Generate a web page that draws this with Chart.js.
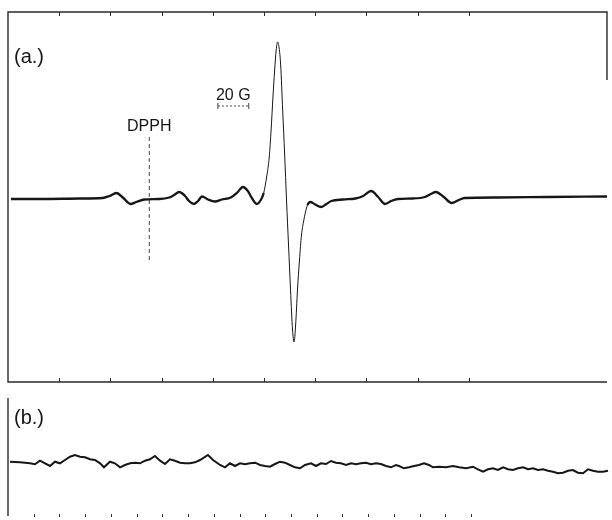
<!DOCTYPE html>
<html><head><meta charset="utf-8">
<script src="https://cdn.jsdelivr.net/npm/chart.js@4/dist/chart.umd.min.js"></script>
<style>
html,body{margin:0;padding:0;background:#fff;}
#wrap{position:relative;width:612px;height:520px;overflow:hidden;}
#c1{position:absolute;left:0;top:0;}
#c2{position:absolute;left:0;top:390px;}
</style></head><body>
<div id="wrap"><canvas id="c1" width="612" height="390"></canvas><canvas id="c2" width="612" height="130"></canvas></div>
<script>
// ---- data (field in gauss, arbitrary origin; amplitude in arbitrary units) ----
const spectrumField = [1.9,20.6,46.5,61.3,65.8,70.3,74.8,79.4,83.2,88.4,98.1,104.5,107.7,111.0,114.8,117.4,120.6,123.2,125.8,129.7,134.2,138.7,144.5,148.4,152.3,155.5,158.1,161.3,163.9,165.8,167.7,169.4,170.6,171.8,172.9,173.9,174.8,175.8,176.8,178.1,179.4,180.6,181.9,183.2,184.5,185.5,186.5,187.7,189.0,190.3,191.6,192.9,194.2,196.1,198.7,203.2,206.5,209.7,217.4,225.2,230.3,235.5,240.0,244.5,248.4,252.9,262.6,270.3,274.2,277.4,282.6,287.7,292.3,296.1,317.4,349.7,388.4];
const spectrumAmp   = [-2,-2,-1.5,-1,1,4,-1,-7,-5,-2.5,-2,-0.5,2,5,1,-4,-7,-4,0.5,-2.5,-4.5,-2.5,-0.5,4,10,6,-1,-7,-3,4,20,40,67,100,127,147,155,149,132,87,42,-3,-48,-93,-133,-145,-128,-93,-63,-38,-25,-15,-8,-5,-7,-10,-7,-4,-2.5,-1.5,1,6,0,-7,-4,-2,-1.5,0,3,5,0,-6,-3,-1,-0.5,0,0.5];

const noiseField = [1.3,7.7,14.2,17.4,20.6,23.9,27.1,30.3,33.5,36.8,40.0,43.2,46.5,49.7,52.9,56.1,59.4,61.9,65.8,69.0,72.3,75.5,78.7,81.9,85.2,88.4,91.6,94.8,98.1,101.3,104.5,107.7,111.0,114.2,117.4,120.6,123.9,129.0,132.3,136.8,140.0,143.2,146.5,149.7,152.9,156.1,159.4,162.6,165.8,169.0,172.3,175.5,178.7,181.9,185.2,188.4,191.6,195.5,198.7,201.9,205.2,208.4,211.6,214.8,218.1,221.3,224.5,227.7,231.0,234.2,237.4,240.6,243.9,247.1,250.3,252.3,255.5,258.7,261.9,265.2,268.4,271.6,274.2,278.1,282.6,287.1,291.0,295.5,300.0,303.2,306.5,309.7,312.9,316.1,319.4,322.6,325.8,329.0,332.3,335.5,338.7,341.9,345.2,348.4,351.6,354.8,358.1,361.3,364.5,367.7,371.0,374.2,377.4,380.6,383.9,387.1];
const noiseAmp   = [1.3,0.7,-0.3,-1.3,2.3,-0.3,-3,1.3,-0.3,3,6.3,8,6.3,5.7,3.7,3,-0.3,-4.3,1.3,-0.3,-4.3,-2,-0.3,0.3,-0.3,2.3,3.7,7,2.3,-1,3.7,2.3,0.3,-0.3,-0.3,0.7,3,8,3,-2,-4.3,-0.3,-3,-0.3,-1.3,-0.3,0.3,-2,-3,-3.7,-1,1.3,0.3,-2,-4.3,-5.3,-2,-0.3,-3,-0.3,-1,2,0.3,-0.3,-2,-0.3,-1.3,-0.3,0.3,-1.3,-0.3,-1,-3,-4.3,-2,-3,-5.3,-4.3,-3,-2,-0.3,-2,-4.3,-3.7,-4.3,-3,-4.3,-5.3,-3.7,-6.3,-8.7,-6.3,-5.3,-7,-4.3,-6.3,-7,-5.3,-4.3,-6.3,-5.3,-7,-6.3,-7.7,-8.7,-10.3,-9.7,-7.7,-7,-9.7,-10.3,-6.3,-7.7,-8.7,-8.7,-7.7];

const dpphField = [91.6, 91.6];
const dpphAmp   = [60, -65];
const scaleBarField = [136.1, 156.1];   // 20 G
const scaleBarAmp   = [91, 91];
const panelLabels  = ['(a.)', '(b.)'];
const markerLabels = ['DPPH', '20 G'];
const fieldRange = [0, 388.4];
const majorTickStep = 33.2;
const minorTickMax = 300;

// ---- helpers ----
const pts = (xs, ys) => xs.map((x, i) => ({x, y: ys[i]}));
const INK = '#161616';
const FONT = '"Liberation Sans", Arial, sans-serif';

const frameA = {
  id: 'frameA',
  beforeDatasetsDraw(chart) {
    const {ctx, chartArea: a, scales: {x}} = chart;
    ctx.save();
    ctx.strokeStyle = '#2a2a2a';
    ctx.lineWidth = 1.4;
    ctx.beginPath();
    ctx.moveTo(a.right, a.top + 68); ctx.lineTo(a.right, a.top);
    ctx.lineTo(a.left, a.top); ctx.lineTo(a.left, a.bottom); ctx.lineTo(a.right, a.bottom);
    ctx.stroke();
    ctx.lineWidth = 1;
    ctx.beginPath();
    for (let v = majorTickStep; v < fieldRange[1] * 0.8; v += majorTickStep) {
      const px = Math.round(x.getPixelForValue(v)) + 0.5;
      ctx.moveTo(px, a.top); ctx.lineTo(px, a.top + 4);
      ctx.moveTo(px, a.bottom); ctx.lineTo(px, a.bottom - 4);
    }
    ctx.stroke();
    ctx.restore();
  },
  afterDraw(chart) {
    const {ctx, chartArea: a, scales: {x, y}} = chart;
    ctx.save();
    ctx.fillStyle = INK;
    ctx.textBaseline = 'alphabetic';
    ctx.font = '20px ' + FONT;
    ctx.textAlign = 'left';
    ctx.fillText(panelLabels[0], a.left + 6, a.top + 51);
    ctx.font = '16px ' + FONT;
    ctx.textAlign = 'center';
    ctx.fillText(markerLabels[0], x.getPixelForValue(dpphField[0]), y.getPixelForValue(dpphAmp[0]) - 6);
    ctx.fillText(markerLabels[1], x.getPixelForValue((scaleBarField[0] + scaleBarField[1]) / 2), y.getPixelForValue(scaleBarAmp[0]) - 6);
    ctx.restore();
  }
};

const frameB = {
  id: 'frameB',
  beforeDatasetsDraw(chart) {
    const {ctx, chartArea: a, scales: {x}} = chart;
    ctx.save();
    ctx.strokeStyle = '#2a2a2a';
    ctx.lineWidth = 1.4;
    ctx.beginPath();
    ctx.moveTo(a.left, a.top); ctx.lineTo(a.left, a.bottom + 3);
    ctx.stroke();
    ctx.lineWidth = 1;
    ctx.beginPath();
    for (let v = majorTickStep / 2; v <= minorTickMax; v += majorTickStep / 2) {
      const px = Math.round(x.getPixelForValue(v)) + 0.5;
      ctx.moveTo(px, a.bottom + 1); ctx.lineTo(px, a.bottom + 4);
    }
    ctx.stroke();
    ctx.fillStyle = INK;
    ctx.font = '20px ' + FONT;
    ctx.textAlign = 'left';
    ctx.textBaseline = 'alphabetic';
    ctx.fillText(panelLabels[1], a.left + 6, a.top + 26);
    ctx.restore();
  }
};

const common = {
  responsive: false,
  animation: false,
  devicePixelRatio: 1,
  plugins: {legend: {display: false}, tooltip: {enabled: false}},
  elements: {point: {radius: 0}}
};

new Chart(document.getElementById('c1'), {
  type: 'line',
  data: {datasets: [
    {
      data: pts(spectrumField, spectrumAmp),
      borderColor: INK, borderWidth: 2.3, cubicInterpolationMode: 'monotone',
      segment: {
        borderWidth: c => {
          const dy = Math.abs(c.p1.parsed.y - c.p0.parsed.y);
          const dx = Math.abs(c.p1.parsed.x - c.p0.parsed.x);
          return dy / dx > 5 ? 1 : 2.3;
        }
      }
    },
    {
      data: pts(dpphField, dpphAmp),
      borderColor: '#444', borderWidth: 1, borderDash: [4, 3], tension: 0
    },
    {
      data: pts(scaleBarField, scaleBarAmp),
      borderColor: '#444', borderWidth: 1, borderDash: [2, 2], tension: 0,
      pointRadius: 3, pointStyle: 'line', rotation: 90, pointBorderColor: '#444', pointBorderWidth: 1
    }
  ]},
  options: Object.assign({}, common, {
    layout: {padding: {left: 8, right: 2, top: 12, bottom: 8}},
    scales: {
      x: {type: 'linear', min: fieldRange[0], max: fieldRange[1], display: false},
      y: {type: 'linear', min: -185, max: 185, display: false}
    }
  }),
  plugins: [frameA]
});

new Chart(document.getElementById('c2'), {
  type: 'line',
  data: {datasets: [
    {data: pts(noiseField, noiseAmp), borderColor: INK, borderWidth: 2, tension: 0}
  ]},
  options: Object.assign({}, common, {
    layout: {padding: {left: 8, right: 2, top: 8, bottom: 7}},
    scales: {
      x: {type: 'linear', min: fieldRange[0], max: fieldRange[1], display: false},
      y: {type: 'linear', min: -50, max: 65, display: false}
    }
  }),
  plugins: [frameB]
});
</script>
</body></html>
